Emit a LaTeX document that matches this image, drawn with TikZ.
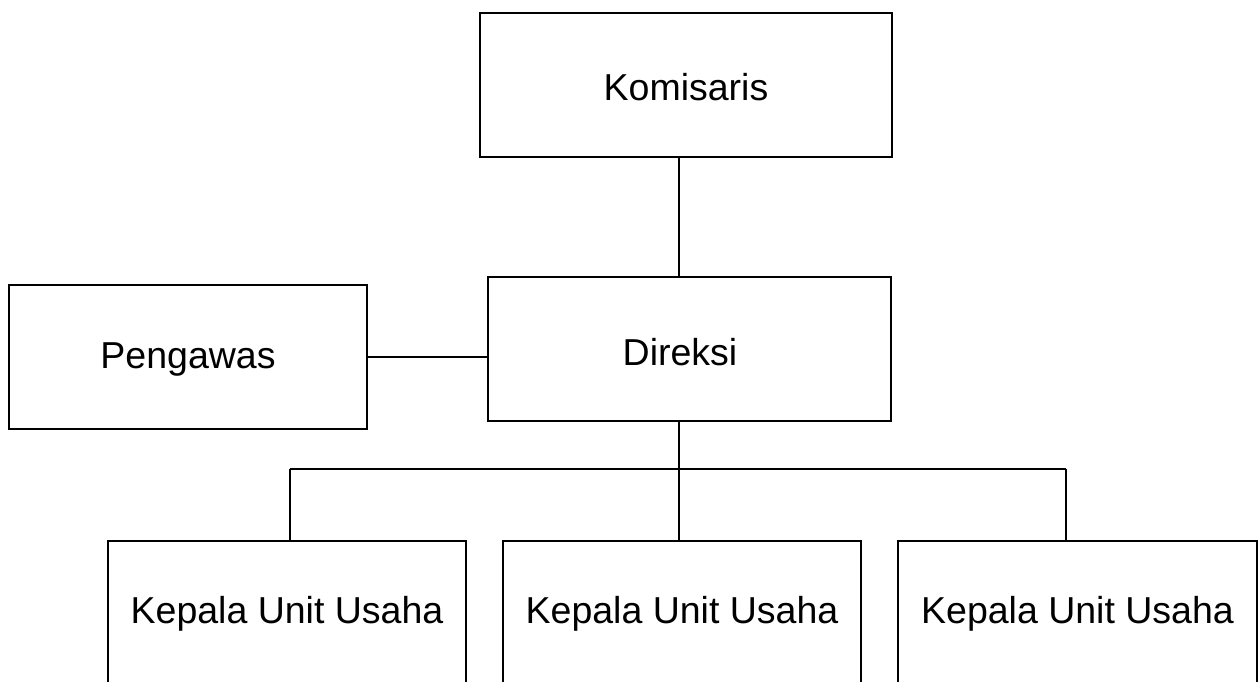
\documentclass[tikz,border=0pt]{standalone}
\usepackage{fontspec}
\setmainfont{Liberation Sans}
\begin{document}
\begin{tikzpicture}[x=1pt,y=-1pt,
  box/.style={draw=black, line width=1.8pt, rectangle, inner sep=0pt},
  txt/.style={font=\fontsize{37.5}{42}\selectfont, inner sep=0pt},
  conn/.style={draw=black, line width=1.8pt}]
\clip (0,0) rectangle (1258,682);
\fill[white] (0,0) rectangle (1258,682);
\node[box, minimum width=412pt, minimum height=144pt,
      label={[txt, yshift=-2.2pt, name=komtext]center:Komisaris}] (kom) at (686,85) {};
\node[box, minimum width=403pt, minimum height=144pt,
      label={[txt, xshift=-9.5pt, yshift=-3.5pt, name=dirtext]center:Direksi}] (dir) at (689.5,349) {};
\node[box, minimum width=358pt, minimum height=144pt,
      label={[txt, yshift=-2.5pt, name=pengtext]center:Pengawas}] (peng) at (188,357) {};
\node[box, minimum width=358pt, minimum height=150pt,
      label={[txt, yshift=2.5pt, name=k1text]center:Kepala Unit Usaha}] (k1) at (287,616) {};
\node[box, minimum width=358pt, minimum height=150pt,
      label={[txt, yshift=2.5pt, name=k2text]center:Kepala Unit Usaha}] (k2) at (682,616) {};
\node[box, minimum width=359pt, minimum height=150pt,
      label={[txt, yshift=2.5pt, name=k3text]center:Kepala Unit Usaha}] (k3) at (1077.5,616) {};
\coordinate (trunk) at (679,0);
\coordinate (bus) at (0,469);
\coordinate (d1) at (290,0);
\coordinate (d3) at (1066,0);
\draw[conn] (kom.south -| trunk) -- (dir.north -| trunk);
\draw[conn] (peng.east) -- (dir.west |- peng.east);
\draw[conn] (dir.south -| trunk) -- (trunk |- bus);
\draw[conn] (d1 |- bus) -- (d3 |- bus);
\draw[conn] (d1 |- bus) -- (k1.north -| d1);
\draw[conn] (trunk |- bus) -- (k2.north -| trunk);
\draw[conn] (d3 |- bus) -- (k3.north -| d3);
\end{tikzpicture}
\end{document}
